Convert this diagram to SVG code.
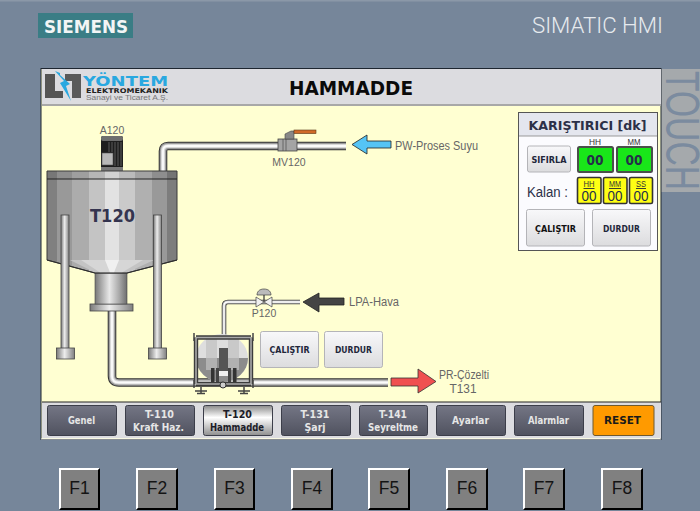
<svg xmlns="http://www.w3.org/2000/svg" width="700" height="511" viewBox="0 0 700 511">
<style>
.s{font-family:"Liberation Sans",Arial,sans-serif}
.b{font-family:"DejaVu Sans",Verdana,sans-serif;font-weight:700}
.m{text-anchor:middle}
.lab{font-family:"Liberation Sans",Arial,sans-serif;fill:#666;font-size:12px}
.lab2{font-size:10.5px}
.nav{font-size:10px;fill:#e6e6e6;text-anchor:middle}
.btn{fill:url(#btnG);stroke:#b4b4b8;stroke-width:1}
.bt{font-size:8.5px;fill:#22263a;text-anchor:middle}
.navb{fill:url(#navG);stroke:#3c3e4a;stroke-width:1}
.key{fill:#808080}
.keyt{font-family:"Liberation Sans",Arial,sans-serif;font-size:17.5px;fill:#141414;text-anchor:middle}
.p{fill:none}
.p1{stroke:#333;stroke-width:8.6}
.p2{stroke:#999;stroke-width:6.6}
.p3{stroke:#d8d8d8;stroke-width:4.2}
.p4{stroke:#fbfbfb;stroke-width:1.8}
.a1{stroke:#444;stroke-width:4.6}
.a2{stroke:#bbb;stroke-width:3}
.a3{stroke:#fff;stroke-width:1.4}
.g{fill:#19e619;stroke:#4a4f4a;stroke-width:2}
.y{fill:#ffff14;stroke:#333;stroke-width:1.6}
.t0{font-size:14px;fill:#24304a;text-anchor:middle}
.hd{font-family:"Liberation Sans",Arial,sans-serif;font-size:9.5px;fill:#333;text-anchor:middle}
.leg{fill:url(#metalH);stroke:#444;stroke-width:.8}
</style>
<defs>
<linearGradient id="btnG" x1="0" y1="0" x2="0" y2="1"><stop offset="0" stop-color="#f8f8fa"/><stop offset="1" stop-color="#dcdcde"/></linearGradient>
<linearGradient id="navG" x1="0" y1="0" x2="0" y2="1"><stop offset="0" stop-color="#747685"/><stop offset="1" stop-color="#50525f"/></linearGradient>
<linearGradient id="navA" x1="0" y1="0" x2="0" y2="1"><stop offset="0" stop-color="#8a8a8a"/><stop offset=".4" stop-color="#ffffff"/><stop offset="1" stop-color="#8f8f8f"/></linearGradient>
<linearGradient id="metalH" x1="0" y1="0" x2="1" y2="0"><stop offset="0" stop-color="#7a7a7a"/><stop offset=".45" stop-color="#ededed"/><stop offset="1" stop-color="#808080"/></linearGradient>
<linearGradient id="tankG" gradientUnits="userSpaceOnUse" x1="47" y1="0" x2="177" y2="0">
<stop offset=".077" stop-color="#808080"/><stop offset=".077" stop-color="#999"/><stop offset=".192" stop-color="#999"/><stop offset=".192" stop-color="#acacac"/><stop offset=".323" stop-color="#acacac"/><stop offset=".323" stop-color="#c4c4c4"/><stop offset=".446" stop-color="#c4c4c4"/><stop offset=".446" stop-color="#e2e2e2"/><stop offset=".554" stop-color="#e2e2e2"/><stop offset=".554" stop-color="#cacaca"/><stop offset=".677" stop-color="#cacaca"/><stop offset=".677" stop-color="#b0b0b0"/><stop offset=".808" stop-color="#b0b0b0"/><stop offset=".808" stop-color="#999"/><stop offset=".923" stop-color="#999"/><stop offset=".923" stop-color="#7d7d7d"/>
</linearGradient>
<linearGradient id="neckG" gradientUnits="userSpaceOnUse" x1="95" y1="0" x2="127" y2="0">
<stop offset="0" stop-color="#777"/><stop offset=".2" stop-color="#aaa"/><stop offset=".45" stop-color="#e8e8e8"/><stop offset=".75" stop-color="#aaa"/><stop offset="1" stop-color="#6e6e6e"/>
</linearGradient>
<clipPath id="tc"><rect x="661" y="69" width="39" height="123"/></clipPath>
</defs>

<rect width="700" height="511" fill="#76869a"/>
<rect x="0" y="0" width="700" height="1.5" fill="#8b98a8"/>

<g id="brand">
<rect x="38" y="13" width="95" height="25" fill="#3a7d85"/>
<text x="86" y="33" class="b m" font-size="17.5" fill="#f2f5f5" textLength="84" lengthAdjust="spacingAndGlyphs">SIEMENS</text>
<text x="532" y="33" font-family="Roboto,'Liberation Sans',sans-serif" font-weight="300" font-size="22" fill="#e6eaee" textLength="131" lengthAdjust="spacingAndGlyphs">SIMATIC HMI</text>
</g>

<g id="touch" clip-path="url(#tc)">
<rect x="661" y="69" width="39" height="123" fill="#a5a9ac"/>
<text transform="translate(666 71) rotate(90)" font-family="'Liberation Sans',sans-serif" font-size="48" fill="#7b8b9f" textLength="119" lengthAdjust="spacingAndGlyphs">TOUCH</text>
</g>

<g id="screen">
<rect x="41" y="68.500" width="620" height="371" fill="#ffffd2" stroke="#1e2630" stroke-width="1"/>
<rect x="42" y="69" width="619" height="35" fill="#dcdce0"/>
<rect x="42" y="104" width="619" height="2" fill="#a8a8a8"/>
<rect x="42" y="402" width="619" height="36" fill="#dcdce0"/>
<line x1="42" y1="402" x2="661" y2="402" stroke="#222" stroke-width="1"/>
<line x1="41" y1="439" x2="661" y2="439" stroke="#f4f4f4" stroke-width="1.2"/>
<text x="351" y="95" class="b m" font-size="20" fill="#0a0a0a" textLength="124" lengthAdjust="spacingAndGlyphs">HAMMADDE</text>
</g>

<g id="logo">
<path d="M45 74H55V91H63V98H45Z" fill="#555"/>
<path d="M65 74H81V98H72V81H65Z" fill="#5a5a5a"/>
<path d="M55 71L64 81L60 83L71 101L66 86L70 84L60 75L60 73Z" fill="#29a8e0"/>
<text x="83" y="86" class="b" font-size="14.5" fill="#29a8e0" textLength="85" lengthAdjust="spacingAndGlyphs">YÖNTEM</text>
<text x="86" y="93" class="b" font-size="6.500" fill="#222" textLength="82" lengthAdjust="spacingAndGlyphs">ELEKTROMEKANIK</text>
<text x="86" y="100" class="s" font-size="6.800" fill="#777" textLength="82" lengthAdjust="spacingAndGlyphs">Sanayi ve Ticaret A.Ş.</text>
</g>

<g id="connectors">
<g class="p">
<path class="p1" d="M163 171V151Q163 146 168 146H346"/><path class="p2" d="M163 171V151Q163 146 168 146H346"/><path class="p3" d="M163 171V151Q163 146 168 146H346"/><path class="p4" d="M163 171V151Q163 146 168 146H346"/>
<path class="p1" d="M112 311V376Q112 382.500 119 382.500H388"/><path class="p2" d="M112 311V376Q112 382.500 119 382.500H388"/><path class="p3" d="M112 311V376Q112 382.500 119 382.500H388"/><path class="p4" d="M112 311V376Q112 382.500 119 382.500H388"/>
<path class="a1" d="M224 338V306Q224 302 228 302H300"/><path class="a2" d="M224 338V306Q224 302 228 302H300"/><path class="a3" d="M224 338V306Q224 302 228 302H300"/>
</g>
<polygon points="352,144.500 367,135 367,141 391,141 391,148 367,148 367,154" fill="#55c4f5" stroke="#222" stroke-width=".8"/>
<polygon points="303,302 319,293 319,298 344,298 344,305 319,305 319,312" fill="#444" stroke="#222" stroke-width=".8"/>
<polygon points="436,381.500 418,369 418,378 391,378 391,386 418,386 418,393" fill="#f05050" stroke="#333" stroke-width=".8"/>
</g>

<g id="A120">
<rect x="101" y="136" width="22" height="35.500" rx="2" fill="#1e1e1e"/>
<rect x="101" y="136" width="22" height="5" rx="2" fill="#6e6e6e"/>
<rect x="101" y="167" width="22" height="4.500" fill="#7a7a7a"/>
<path d="M109 142V152M112 142V152M115 142V166M118 142V166M121 142V166" stroke="#5a5a5a" stroke-width="1"/>
<rect x="102" y="153" width="11" height="12" fill="#b8b8b8" stroke="#555" stroke-width=".6"/>
<text x="112" y="134" class="lab lab2 m">A120</text>
</g>

<g id="T120">
<rect x="90" y="304" width="43" height="7" fill="url(#metalH)" stroke="#444" stroke-width=".8"/>
<rect x="95" y="272" width="32" height="32" fill="url(#neckG)" stroke="#444" stroke-width=".6"/>
<path d="M47 171H177V260L127 273H95L47 260Z" fill="url(#tankG)" stroke="#3a3a3a" stroke-width="1"/>
<path d="M70 260H154L127 272.500H95Z" fill="#c4c4c4"/>
<path d="M81 260H143L122 272.500H100Z" fill="#d6d6d6"/>
<path d="M105 260H119L114 272.500H110Z" fill="#f0f0f0"/>
<path d="M47 260L95 273H127L177 260" fill="none" stroke="#2e2e2e" stroke-width="1.200"/>
<rect x="47.500" y="171.500" width="129" height="7.500" fill="#000" opacity=".07"/>
<line x1="47" y1="179" x2="177" y2="179" stroke="#222" stroke-width="1"/>
<rect x="61" y="215" width="8" height="134" class="leg"/>
<rect x="153.500" y="215" width="8" height="134" class="leg"/>
<rect x="56.500" y="348" width="18" height="11" class="leg"/>
<rect x="148.500" y="348" width="18" height="11" class="leg"/>
<text x="112.500" y="222" class="b m" font-size="18" fill="#34344f" textLength="45" lengthAdjust="spacingAndGlyphs">T120</text>
</g>

<g id="MV120">
<rect x="278" y="139" width="19" height="12" fill="#a4a4a4" stroke="#444" stroke-width=".8"/>
<path d="M283 139V151M286 139V151" stroke="#555" stroke-width=".8"/>
<path d="M285 139V134L291 131H294V139Z" fill="#888" stroke="#444" stroke-width=".6"/>
<rect x="294" y="130" width="22" height="3.600" fill="#d06a28" stroke="#5a3a1c" stroke-width=".6"/>
<text x="289" y="166" class="lab lab2 m">MV120</text>
</g>

<g id="P120">
<path d="M264 289C269 289 271 292 271 295H257C257 292 259 289 264 289Z" fill="#bbb" stroke="#444" stroke-width=".7"/>
<line x1="264" y1="295" x2="264" y2="302" stroke="#333" stroke-width="1.200"/>
<path d="M256 297L264 302L256 307Z M272 297L264 302L272 307Z" fill="#f0f0f0" stroke="#444" stroke-width=".7"/>
<text x="264" y="317" class="lab lab2 m">P120</text>
</g>

<g id="pump">
<ellipse cx="222" cy="358" rx="26" ry="24" fill="#dedede"/>
<path d="M196 358A26 24 0 0 0 248 358Z" fill="#8c8c8c"/>
<path d="M206 338H217V370H206ZM228 338H239V370H228Z" fill="#c0c0c0" opacity=".7"/>
<rect x="219" y="348" width="9" height="23" fill="#555"/>
<rect x="211" y="368" width="3.500" height="14" fill="#333"/><rect x="216" y="368" width="3" height="14" fill="#444"/>
<rect x="228" y="368" width="3" height="14" fill="#444"/><rect x="233" y="368" width="3.500" height="14" fill="#333"/>
<rect x="219" y="371" width="9" height="5" fill="#eee"/>
<path d="M196 337.500H251M196 337.500V384M251 337.500V384M196 384H251" fill="none" stroke="#3c3c3c" stroke-width="4.400"/>
<path d="M196 337.500H251M196 337.500V384M251 337.500V384M196 384H251" fill="none" stroke="#aaa" stroke-width="1.600"/>
<path d="M194 333V341M253 333V341M194 380V388M253 380V388" stroke="#444" stroke-width="1.500"/>
<circle cx="223" cy="385" r="3" fill="#ccc" stroke="#333" stroke-width="1"/>
<path d="M195 391H207M201 387V394M238 391H250M244 387V394M197 393.500H205M240 393.500H248" stroke="#444" stroke-width="1.500"/>
</g>

<g id="pump-buttons">
<rect x="260.500" y="331.500" width="58" height="36" rx="2" class="btn"/>
<text x="289.500" y="353" class="b bt" textLength="40" lengthAdjust="spacingAndGlyphs">ÇALIŞTIR</text>
<rect x="324.500" y="331.500" width="58" height="36" rx="2" class="btn"/>
<text x="353.500" y="353" class="b bt" textLength="37" lengthAdjust="spacingAndGlyphs">DURDUR</text>
</g>

<g id="labels">
<text x="395" y="150" class="lab" textLength="83" lengthAdjust="spacingAndGlyphs">PW-Proses Suyu</text>
<text x="349" y="306" class="lab" textLength="50" lengthAdjust="spacingAndGlyphs">LPA-Hava</text>
<text x="464" y="379" class="lab m" textLength="50" lengthAdjust="spacingAndGlyphs">PR-Çözelti</text>
<text x="463" y="393" class="lab m" textLength="27" lengthAdjust="spacingAndGlyphs">T131</text>
</g>

<g id="mixer-panel">
<rect x="518.500" y="112.500" width="139" height="138" fill="#fbfbfe" stroke="#555" stroke-width="1"/>
<rect x="519" y="113" width="138" height="23" fill="#e4e6ee"/>
<line x1="519" y1="136" x2="657" y2="136" stroke="#999" stroke-width="1"/>
<text x="587.500" y="130" class="b m" font-size="12.500" fill="#2c3048" textLength="118" lengthAdjust="spacingAndGlyphs">KARIŞTIRICI [dk]</text>
<rect x="527.500" y="146" width="43" height="26" rx="2" class="btn"/>
<text x="549" y="163" class="b bt" textLength="35" lengthAdjust="spacingAndGlyphs">SIFIRLA</text>
<text x="595" y="145" class="hd" textLength="12" lengthAdjust="spacingAndGlyphs">HH</text>
<text x="634" y="145" class="hd" textLength="13" lengthAdjust="spacingAndGlyphs">MM</text>
<rect x="578" y="147" width="35" height="25" rx="1.500" class="g"/>
<rect x="617" y="147" width="35" height="25" rx="1.500" class="g"/>
<text x="595" y="164.500" class="b t0" textLength="17" lengthAdjust="spacingAndGlyphs">00</text>
<text x="634" y="164.500" class="b t0" textLength="17" lengthAdjust="spacingAndGlyphs">00</text>
<text x="527" y="197" class="s" font-size="14" fill="#2c3048" textLength="41" lengthAdjust="spacingAndGlyphs">Kalan :</text>
<rect x="577.500" y="177.500" width="23.500" height="26" rx="1.500" class="y"/>
<rect x="603.500" y="177.500" width="23.500" height="26" rx="1.500" class="y"/>
<rect x="629.500" y="177.500" width="23" height="26" rx="1.500" class="y"/>
<text x="589" y="187" class="hd" text-decoration="underline" textLength="11" lengthAdjust="spacingAndGlyphs">HH</text>
<text x="615" y="187" class="hd" text-decoration="underline" textLength="12" lengthAdjust="spacingAndGlyphs">MM</text>
<text x="641" y="187" class="hd" text-decoration="underline" textLength="10" lengthAdjust="spacingAndGlyphs">SS</text>
<text x="589" y="200.500" class="s t0" textLength="15" lengthAdjust="spacingAndGlyphs">00</text>
<text x="615" y="200.500" class="s t0" textLength="15" lengthAdjust="spacingAndGlyphs">00</text>
<text x="641" y="200.500" class="s t0" textLength="15" lengthAdjust="spacingAndGlyphs">00</text>
<rect x="526.500" y="209.500" width="58" height="36.500" rx="2" class="btn"/>
<text x="555.500" y="232" class="b bt" style="fill:#111" textLength="41" lengthAdjust="spacingAndGlyphs">ÇALIŞTIR</text>
<rect x="592.500" y="209.500" width="58" height="36.500" rx="2" class="btn"/>
<text x="621.500" y="232" class="b bt" textLength="37" lengthAdjust="spacingAndGlyphs">DURDUR</text>
</g>

<g id="nav">
<rect x="47.500" y="405.500" width="69" height="30" rx="2" class="navb"/>
<text x="81.500" y="424" class="b nav" textLength="27" lengthAdjust="spacingAndGlyphs">Genel</text>
<rect x="125.500" y="405.500" width="69" height="30" rx="2" class="navb"/>
<text x="159.500" y="418" class="b nav" textLength="29" lengthAdjust="spacingAndGlyphs">T-110</text>
<text x="158.500" y="431" class="b nav" textLength="51" lengthAdjust="spacingAndGlyphs">Kraft Haz.</text>
<rect x="203.500" y="405.500" width="69" height="30" rx="2" fill="url(#navA)" stroke="#3c3e4a"/>
<text x="237.500" y="418" class="b nav" style="fill:#1c1c28" textLength="29" lengthAdjust="spacingAndGlyphs">T-120</text>
<text x="237" y="431" class="b nav" style="fill:#1c1c28" textLength="54" lengthAdjust="spacingAndGlyphs">Hammadde</text>
<rect x="281.500" y="405.500" width="69" height="30" rx="2" class="navb"/>
<text x="315" y="418" class="b nav" textLength="29" lengthAdjust="spacingAndGlyphs">T-131</text>
<text x="315" y="431" class="b nav" textLength="21" lengthAdjust="spacingAndGlyphs">Şarj</text>
<rect x="359.500" y="405.500" width="68" height="30" rx="2" class="navb"/>
<text x="393" y="418" class="b nav" textLength="28" lengthAdjust="spacingAndGlyphs">T-141</text>
<text x="393" y="431" class="b nav" textLength="50" lengthAdjust="spacingAndGlyphs">Seyreltme</text>
<rect x="436.500" y="405.500" width="69" height="30" rx="2" class="navb"/>
<text x="470.500" y="424" class="b nav" textLength="37" lengthAdjust="spacingAndGlyphs">Ayarlar</text>
<rect x="514.500" y="405.500" width="69" height="30" rx="2" class="navb"/>
<text x="548.500" y="424" class="b nav" textLength="41" lengthAdjust="spacingAndGlyphs">Alarmlar</text>
<rect x="593" y="405.500" width="61" height="30" rx="2" fill="#ff9a00" stroke="#6e5a30"/>
<text x="622.500" y="424" class="b nav" style="fill:#1a1a1a" textLength="37" lengthAdjust="spacingAndGlyphs">RESET</text>
</g>

<g id="fkeys">
<g id="F1"><path d="M59 468H100L98 470H61V508L59 510Z" fill="#fff"/><path d="M100 468V510H59L61 508H98V470Z" fill="#000"/><rect x="61" y="470" width="37" height="38" class="key"/><text x="79.500" y="494" class="keyt">F1</text></g>
<g id="F2"><path d="M136 468H178L176 470H138V508L136 510Z" fill="#fff"/><path d="M178 468V510H136L138 508H176V470Z" fill="#000"/><rect x="138" y="470" width="38" height="38" class="key"/><text x="157" y="494" class="keyt">F2</text></g>
<g id="F3"><path d="M214 468H255L253 470H216V508L214 510Z" fill="#fff"/><path d="M255 468V510H214L216 508H253V470Z" fill="#000"/><rect x="216" y="470" width="37" height="38" class="key"/><text x="234.500" y="494" class="keyt">F3</text></g>
<g id="F4"><path d="M291 468H333L331 470H293V508L291 510Z" fill="#fff"/><path d="M333 468V510H291L293 508H331V470Z" fill="#000"/><rect x="293" y="470" width="38" height="38" class="key"/><text x="312" y="494" class="keyt">F4</text></g>
<g id="F5"><path d="M368 468H410L408 470H370V508L368 510Z" fill="#fff"/><path d="M410 468V510H368L370 508H408V470Z" fill="#000"/><rect x="370" y="470" width="38" height="38" class="key"/><text x="389" y="494" class="keyt">F5</text></g>
<g id="F6"><path d="M446 468H488L486 470H448V508L446 510Z" fill="#fff"/><path d="M488 468V510H446L448 508H486V470Z" fill="#000"/><rect x="448" y="470" width="38" height="38" class="key"/><text x="467" y="494" class="keyt">F6</text></g>
<g id="F7"><path d="M523 468H565L563 470H525V508L523 510Z" fill="#fff"/><path d="M565 468V510H523L525 508H563V470Z" fill="#000"/><rect x="525" y="470" width="38" height="38" class="key"/><text x="544" y="494" class="keyt">F7</text></g>
<g id="F8"><path d="M601 468H643L641 470H603V508L601 510Z" fill="#fff"/><path d="M643 468V510H601L603 508H641V470Z" fill="#000"/><rect x="603" y="470" width="38" height="38" class="key"/><text x="622" y="494" class="keyt">F8</text></g>
</g>
</svg>
